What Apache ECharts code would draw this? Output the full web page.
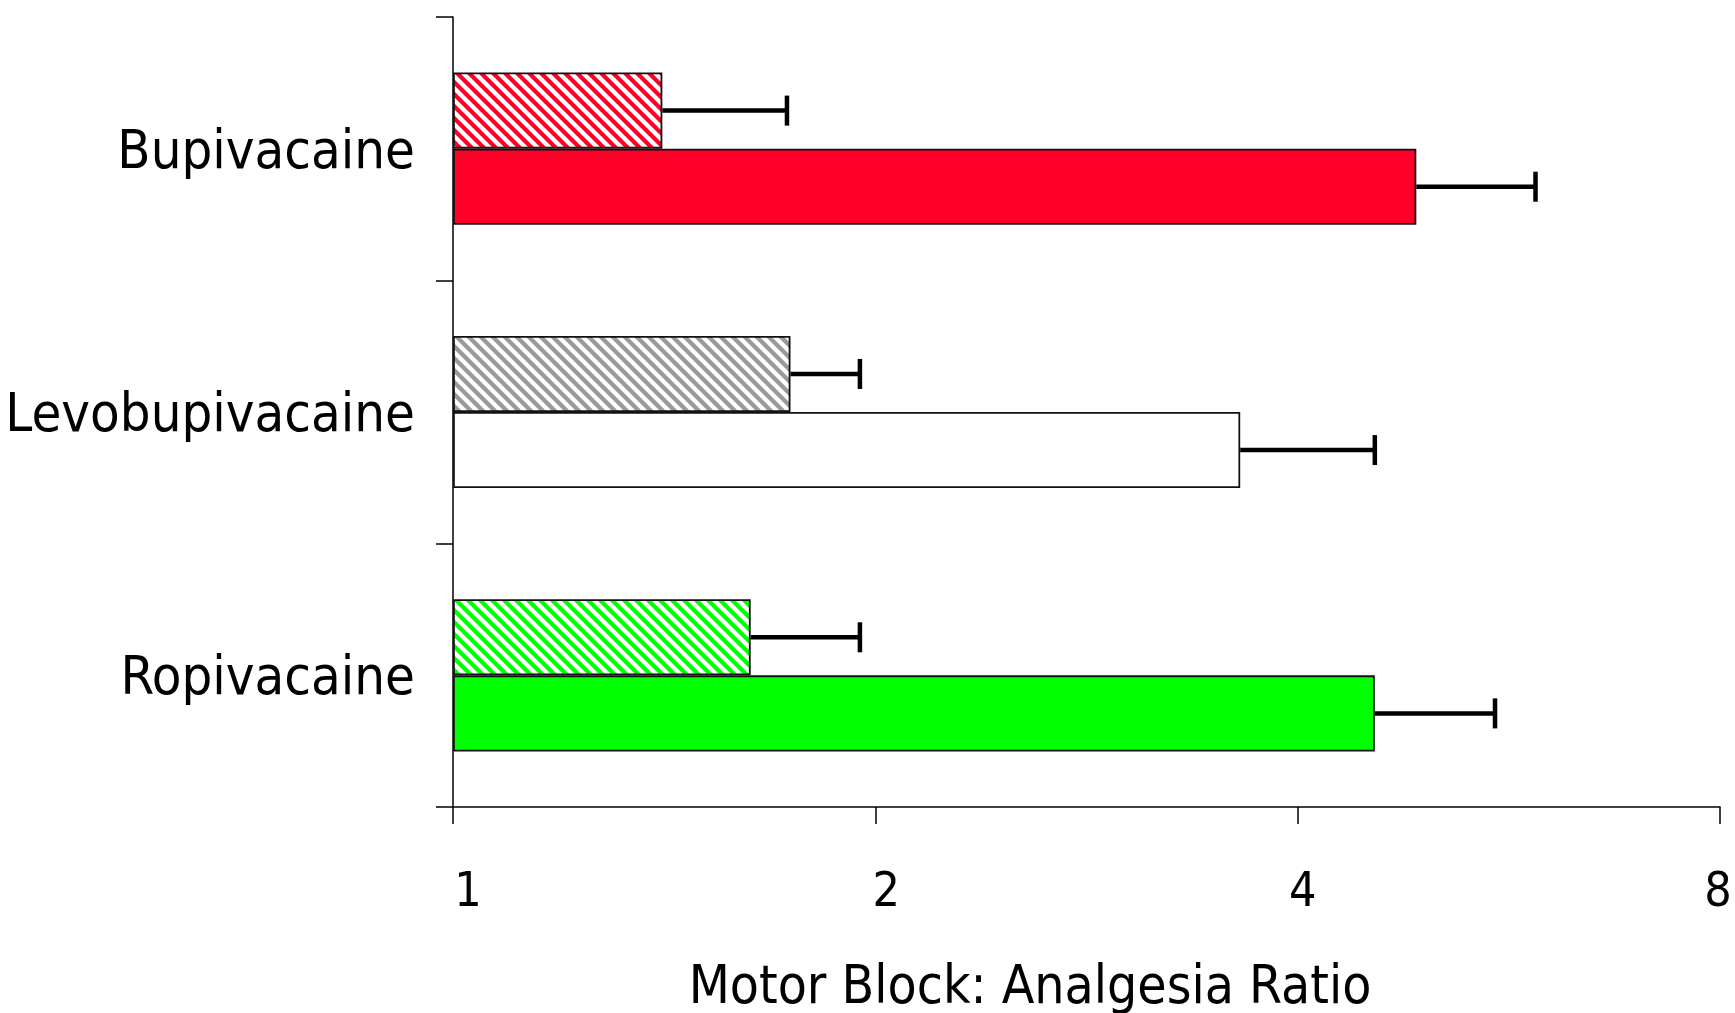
<!DOCTYPE html>
<html>
<head>
<meta charset="utf-8">
<script src="https://cdn.jsdelivr.net/npm/echarts@6/dist/echarts.min.js"></script>
<style>
  html, body { margin: 0; padding: 0; background: #ffffff; }
  #chart { width: 1735px; height: 1013px; }
</style>
</head>
<body>
<div id="chart"></div>
<script>
// Motor block : analgesia ratio per local anaesthetic (log2 scale)
const categories = ['Bupivacaine', 'Levobupivacaine', 'Ropivacaine'];
const hatchedRatio = [1.41, 1.74, 1.63];
const hatchedUpper = [1.73, 1.95, 1.95];
const solidRatio = [4.86, 3.64, 4.54];
const solidUpper = [5.91, 4.54, 5.53];
const xTickValues = [1, 2, 4, 8];

const drugColors = ['#ff0029', '#ffffff', '#00ff00'];
const hatchColors = ['#ff0029', '#9a9a9a', '#00ff00'];
const BAR_FRAC = 0.289;
const FONT = "'DejaVu Sans Condensed', 'Liberation Sans', sans-serif";

// Diagonal "\" stripe tile used for the hatched bars
function makeHatch(color) {
  const s = 12;
  const c = document.createElement('canvas');
  c.width = s; c.height = s;
  const ctx = c.getContext('2d');
  ctx.fillStyle = '#ffffff';
  ctx.fillRect(0, 0, s, s);
  ctx.strokeStyle = color;
  ctx.lineWidth = 4.2;
  for (let k = -1; k <= 1; k++) {
    ctx.beginPath();
    ctx.moveTo(k * s - 3, -3);
    ctx.lineTo(k * s + s + 3, s + 3);
    ctx.stroke();
  }
  return { image: c, repeat: 'repeat' };
}

const hatchedData = hatchedRatio.map((v, i) => ({
  value: v,
  itemStyle: { color: makeHatch(hatchColors[i]) }
}));
const solidData = solidRatio.map((v, i) => ({
  value: v,
  itemStyle: { color: drugColors[i] }
}));

const errorData = [];
categories.forEach((c, i) => {
  errorData.push([i, hatchedRatio[i], hatchedUpper[i], 0]);
  errorData.push([i, solidRatio[i], solidUpper[i], 1]);
});

function renderError(params, api) {
  const cat = api.value(0);
  const mean = api.value(1);
  const upper = api.value(2);
  const slot = api.value(3);
  const p0 = api.coord([mean, cat]);
  const p1 = api.coord([upper, cat]);
  const band = Math.abs(api.coord([1, 1])[1] - api.coord([1, 0])[1]);
  const y = p0[1] + (slot === 0 ? -0.5 : 0.5) * band * BAR_FRAC;
  const cap = 15;
  const st = { stroke: '#000000', lineWidth: 4.5 };
  return {
    type: 'group',
    children: [
      { type: 'line', shape: { x1: p0[0], y1: y, x2: p1[0], y2: y }, style: st },
      { type: 'line', shape: { x1: p1[0], y1: y - cap, x2: p1[0], y2: y + cap }, style: st }
    ]
  };
}

// Tick-label styles: small rightward nudges per tick
const tickRich = {
  t1: { fontFamily: FONT, fontSize: 48, color: '#000000', padding: [0, 0, 0, 30] },
  t2: { fontFamily: FONT, fontSize: 48, color: '#000000', padding: [0, 0, 0, 22] },
  t4: { fontFamily: FONT, fontSize: 48, color: '#000000', padding: [0, 0, 0, 10] },
  t8: { fontFamily: FONT, fontSize: 48, color: '#000000', padding: [0, 4, 0, 0] }
};

const chart = echarts.init(document.getElementById('chart'), null, { renderer: 'canvas' });
chart.setOption({
  animation: false,
  backgroundColor: '#ffffff',
  grid: { left: 453, right: 15, top: 17, bottom: 206, containLabel: false, outerBoundsMode: 'none' },
  xAxis: {
    type: 'log',
    logBase: 2,
    min: 1,
    max: 8,
    axisLine: { show: true, lineStyle: { color: '#000000', width: 1.5 } },
    axisTick: { show: true, length: 17, lineStyle: { color: '#000000', width: 1.5 } },
    splitLine: { show: false },
    axisLabel: {
      color: '#000000',
      fontFamily: FONT,
      fontSize: 48,
      margin: 63,
      rich: tickRich,
      formatter: v => {
        const r = Math.round(v);
        return xTickValues.indexOf(r) >= 0 ? '{t' + r + '|' + r + '}' : '';
      }
    },
    name: 'Motor Block: Analgesia Ratio',
    nameLocation: 'middle',
    nameGap: 156,
    nameTextStyle: { color: '#000000', fontFamily: FONT, fontSize: 53, padding: [0, 113, 0, 0] }
  },
  yAxis: {
    type: 'category',
    inverse: true,
    data: categories,
    axisLine: { show: true, lineStyle: { color: '#000000', width: 1.5 } },
    axisTick: { show: true, length: 17, lineStyle: { color: '#000000', width: 1.5 } },
    axisLabel: {
      color: '#000000',
      fontFamily: FONT,
      fontSize: 54,
      margin: 38,
      rich: { c: { fontFamily: FONT, fontSize: 54, color: '#000000', padding: [10, 0, 0, 0] } },
      formatter: v => '{c|' + v + '}'
    }
  },
  series: [
    {
      name: 'hatched',
      type: 'bar',
      data: hatchedData,
      barWidth: (BAR_FRAC * 100) + '%',
      barGap: '0%',
      itemStyle: { borderColor: '#111111', borderWidth: 1.8 }
    },
    {
      name: 'solid',
      type: 'bar',
      data: solidData,
      barWidth: (BAR_FRAC * 100) + '%',
      barGap: '0%',
      itemStyle: { borderColor: '#111111', borderWidth: 1.8 }
    },
    {
      name: 'error',
      type: 'custom',
      renderItem: renderError,
      data: errorData,
      encode: { x: [1, 2], y: 0 },
      z: 5
    }
  ]
});
</script>
</body>
</html>
